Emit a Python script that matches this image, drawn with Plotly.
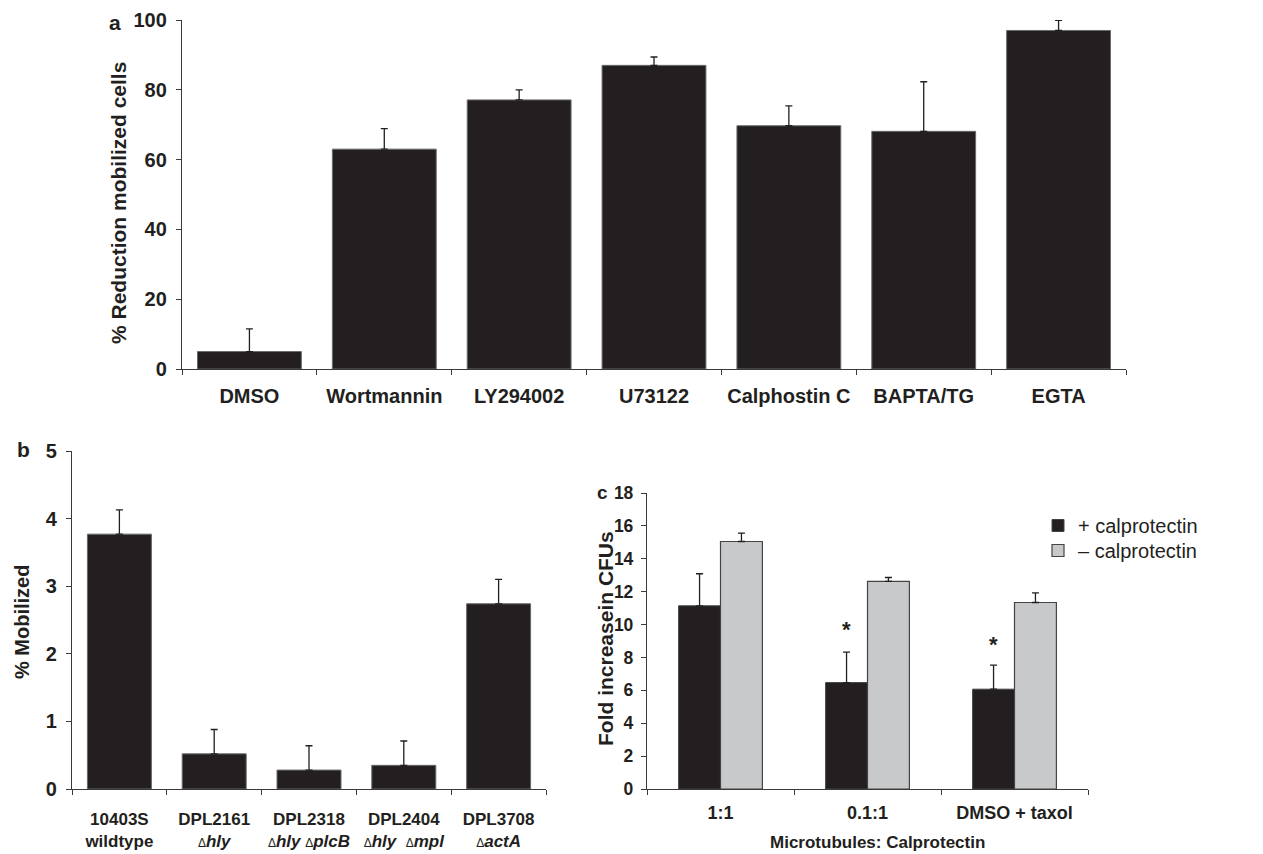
import plotly.graph_objects as go

# ---- data ----
a_categories = ["DMSO", "Wortmannin", "LY294002", "U73122", "Calphostin C", "BAPTA/TG", "EGTA"]
a_values = [5.0, 63.0, 77.1, 87.0, 69.7, 68.1, 97.0]
a_errors = [6.5, 5.9, 2.9, 2.4, 5.7, 14.2, 2.9]

D = "<span style='font-weight:normal;font-size:12px'>Δ</span>"
b_categories = [
    "10403S<br>wildtype",
    "DPL2161<br>" + D + "<i>hly</i>",
    "DPL2318<br>" + D + "<i>hly</i> " + D + "<i>plcB</i>",
    "DPL2404<br>" + D + "<i>hly</i>  " + D + "<i>mpl</i>",
    "DPL3708<br>" + D + "<i>actA</i>",
]
b_values = [3.77, 0.52, 0.28, 0.35, 2.74]
b_errors = [0.36, 0.36, 0.36, 0.36, 0.36]

c_categories = ["1:1", "0.1:1", "DMSO + taxol"]
c_plus_values = [11.14, 6.47, 6.07]
c_plus_errors = [1.95, 1.85, 1.46]
c_minus_values = [15.05, 12.62, 11.34]
c_minus_errors = [0.51, 0.24, 0.59]
c_star_categories = ["0.1:1", "DMSO + taxol"]
c_star_y = [9.7, 8.8]

DARK = "#231f20"
GREY = "#c8c9cb"
AX = "#3a3a3a"
FONT = "Liberation Sans, Arial, sans-serif"

# page body has an 8px margin: size the figure so it fits and map screen px -> paper
OFF = 8
W, H = 1263 - OFF, 854 - OFF
def px(x):
    return (x - OFF) / W
def py(y):
    return 1 - (y - OFF) / H

fig = go.Figure()

err_style = dict(type="data", symmetric=False, color=DARK, thickness=1.3, width=3.5)

fig.add_trace(go.Bar(
    x=a_categories, y=a_values, width=0.77,
    marker=dict(color=DARK, line=dict(color="#6a6a6a", width=1)),
    error_y=dict(array=a_errors, arrayminus=[0] * len(a_errors), **err_style),
    xaxis="x", yaxis="y", showlegend=False,
))

fig.add_trace(go.Bar(
    x=b_categories, y=b_values, width=0.675,
    marker=dict(color=DARK, line=dict(color="#6a6a6a", width=1)),
    error_y=dict(array=b_errors, arrayminus=[0] * len(b_errors), **err_style),
    xaxis="x2", yaxis="y2", showlegend=False,
))

bw = 0.285
fig.add_trace(go.Bar(
    x=c_categories, y=c_plus_values, width=bw, offset=-bw,
    name="+ calprotectin", legend="legend",
    marker=dict(color=DARK, line=dict(color="#444", width=1)),
    error_y=dict(array=c_plus_errors, arrayminus=[0] * 3, **err_style),
    xaxis="x3", yaxis="y3",
))
fig.add_trace(go.Bar(
    x=c_categories, y=c_minus_values, width=bw, offset=0,
    name="– calprotectin", legend="legend2",
    marker=dict(color=GREY, line=dict(color="#444", width=1.2)),
    error_y=dict(array=c_minus_errors, arrayminus=[0] * 3, **err_style),
    xaxis="x3", yaxis="y3",
))

axis_common = dict(
    showline=True, linecolor=AX, linewidth=1.3, showgrid=False, zeroline=False,
    ticks="outside", ticklen=5, tickcolor=AX, tickwidth=1.3,
    fixedrange=True, automargin=False,
)

bold = dict(family=FONT, color=DARK, weight="bold")
legend_common = dict(xanchor="left", yanchor="top",
                     font=dict(family=FONT, size=20, color=DARK),
                     bgcolor="rgba(0,0,0,0)", itemwidth=30)

fig.update_layout(
    template="none",
    width=W, height=H,
    margin=dict(l=0, r=0, t=0, b=0, pad=0, autoexpand=False),
    paper_bgcolor="white", plot_bgcolor="white",
    barmode="group",
    font=dict(family=FONT, color=DARK),
    xaxis=dict(domain=[px(182), px(1126)], anchor="y", type="category",
               tickson="boundaries", tickfont=dict(size=20, **bold),
               ticklabelstandoff=9, **axis_common),
    yaxis=dict(domain=[py(369), py(20)], anchor="x", range=[0, 100], dtick=20,
               tickfont=dict(size=20, **bold), ticklabelstandoff=5, **axis_common),
    xaxis2=dict(domain=[px(72), px(546)], anchor="y2", type="category",
                tickson="boundaries", tickfont=dict(size=17, **bold),
                ticklabelstandoff=14, **axis_common),
    yaxis2=dict(domain=[py(789), py(451)], anchor="x2", range=[0, 5], dtick=1,
                tickfont=dict(size=20, **bold), ticklabelstandoff=5, **axis_common),
    xaxis3=dict(domain=[px(647), px(1088)], anchor="y3", type="category",
                tickson="boundaries", tickfont=dict(size=18, **bold),
                ticklabelstandoff=7, **axis_common),
    yaxis3=dict(domain=[py(789), py(493)], anchor="x3", range=[0, 18], dtick=2,
                tickfont=dict(size=17.5, **bold), ticklabelstandoff=4, **axis_common),
    legend=dict(x=px(1038), y=py(506), **legend_common),
    legend2=dict(x=px(1038), y=py(531), **legend_common),
    showlegend=True,
)

def ann(text, x, y, size, angle=0):
    return dict(text=text, x=px(x), y=py(y), xref="paper", yref="paper",
                xanchor="center", yanchor="middle", textangle=angle,
                showarrow=False, font=dict(size=size, family=FONT, color=DARK))

annotations = [
    ann("<b>a</b>", 115, 22, 21),
    ann("<b>b</b>", 23, 449, 21),
    ann("<b>c</b>", 602, 492, 19),
    ann("<b>% Reduction mobilized cells</b>", 118, 203, 21, angle=-90),
    ann("<b>% Mobilized</b>", 22, 622, 20, angle=-90),
    ann("<b>Fold increasein CFUs</b>", 605, 639, 21, angle=-90),
    ann("<b>Microtubules: Calprotectin</b>", 877, 842, 17),
]
for cat, yv in zip(c_star_categories, c_star_y):
    annotations.append(dict(text="<b>*</b>", x=cat, y=yv, xref="x3", yref="y3",
                            xanchor="center", yanchor="middle",
                            xshift=-21, showarrow=False,
                            font=dict(size=22, family=FONT, color=DARK)))
fig.update_layout(annotations=annotations)

fig.write_html("out.html")
